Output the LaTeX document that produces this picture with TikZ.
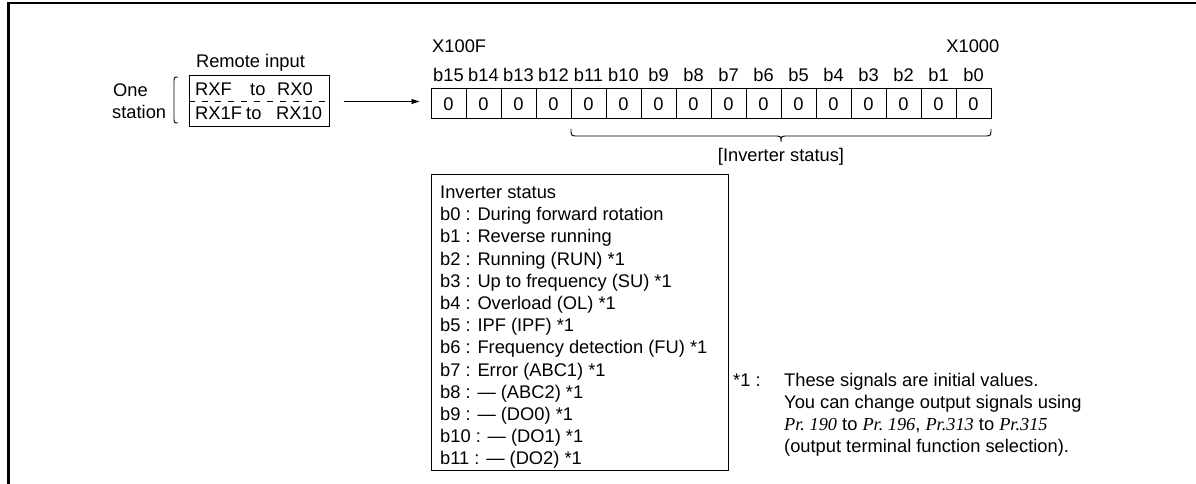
\documentclass[tikz,border=0pt]{standalone}
\usepackage{fontspec}
\setmainfont{Liberation Sans}
\newfontfamily\seriffont{Liberation Serif}
\usetikzlibrary{arrows.meta}
\begin{document}
\begin{tikzpicture}[x=1pt,y=-1pt,
  txt/.style={inner sep=0pt,anchor=base west,font=\fontsize{18.3}{22.2}\selectfont},
  ctxt/.style={inner sep=0pt,anchor=base,font=\fontsize{18.3}{22.2}\selectfont},
  cell/.style={draw,line width=1pt,minimum width=35pt,minimum height=30pt,inner sep=0pt,font=\fontsize{18.3}{22.2}\selectfont},
  boxline/.style={draw,line width=1pt},
  arr/.style={line width=0.9pt,-{Triangle[length=8pt,width=5pt]}}]
\useasboundingbox (0,0) rectangle (1196,484);
\fill[white] (0,0) rectangle (1196,484);
% frame
\draw[line width=2.6pt] (8.7,484) -- (8.7,3) -- (1196,3);

% remote input
\node[ctxt] (rtitle) at (250.5,67.5) {Remote input};
\node[boxline,minimum width=140pt,minimum height=51pt,inner sep=0pt] (rx) at (259,101.5) {};
\draw[line width=0.9pt,dash pattern=on 6pt off 7pt] (rx.west) -- (rx.east);
\node[txt] (r1a) at (195,95.5) {RXF};
\node[txt] (r1b) at (250,95.5) {to};
\node[txt] (r1c) at (277,95.5) {RX0};
\node[txt] (r2a) at (195,119.5) {RX1F};
\node[txt] (r2b) at (246,119.5) {to};
\node[txt] (r2c) at (276,119.5) {RX10};
\node[txt] (one) at (113,96.5) {One};
\node[txt] (stat) at (112,118.5) {station};
\draw[line width=0.9pt] (178,77) .. controls (174,77) .. (174,83) -- (174,117) .. controls (174,123) .. (178,123);

% register
\foreach \i in {0,...,15} {
  \pgfmathtruncatemacro{\bit}{15-\i}
  \node[cell] (c\i) at ({448.5+35*\i},104) {0};
  \node[ctxt] (l\i) at ({448.5+35*\i},81.5) {b\bit};
}
\node[txt] (xhi) at (432,52.5) {X100F};
\node[ctxt,anchor=base east] (xlo) at (999.5,52.5) {X1000};

\draw[arr,shorten <=14pt,shorten >=11pt] (rx.east) -- (rx.east -| c0.west);

% brace
\draw[line width=0.9pt] (571,129) .. controls (571,136) .. (578,136) -- (774,136)
  .. controls (781,136) .. (781,142) .. controls (781,136) .. (788,136) -- (984,136)
  .. controls (991,136) .. (991,129);
\node[ctxt] (bl) at (781,161.5) {[Inverter status]};

% inverter status box
\node[boxline,minimum width=297pt,minimum height=296pt,inner sep=0pt] (inv) at (579.5,322) {};
\foreach \t [count=\k from 0] in {Inverter status,
  b0 : During forward rotation,
  b1 : Reverse running,
  b2 : Running (RUN) *1,
  b3 : Up to frequency (SU) *1,
  b4 : Overload (OL) *1,
  b5 : IPF (IPF) *1,
  b6 : Frequency detection (FU) *1,
  b7 : Error (ABC1) *1,
  b8 : — (ABC2) *1,
  b9 : — (DO0) *1,
  b10 : — (DO1) *1,
  b11 : — (DO2) *1} {
  \node[txt] (s\k) at (440,{198.5+22.2*\k}) {\t};
}

% footnote
\node[txt] (fn) at (733,386.5) {*1 :};
\node[txt] (f1) at (784,386.5) {These signals are initial values.};
\node[txt] (f2) at (784,408.5) {You can change output signals using};
\node[txt] (f3) at (784,430.5) {{\seriffont\itshape Pr.~190} to {\seriffont\itshape Pr.~196}, {\seriffont\itshape Pr.313} to {\seriffont\itshape Pr.315}};
\node[txt] (f4) at (784,452.5) {(output terminal function selection).};
\end{tikzpicture}
\end{document}
